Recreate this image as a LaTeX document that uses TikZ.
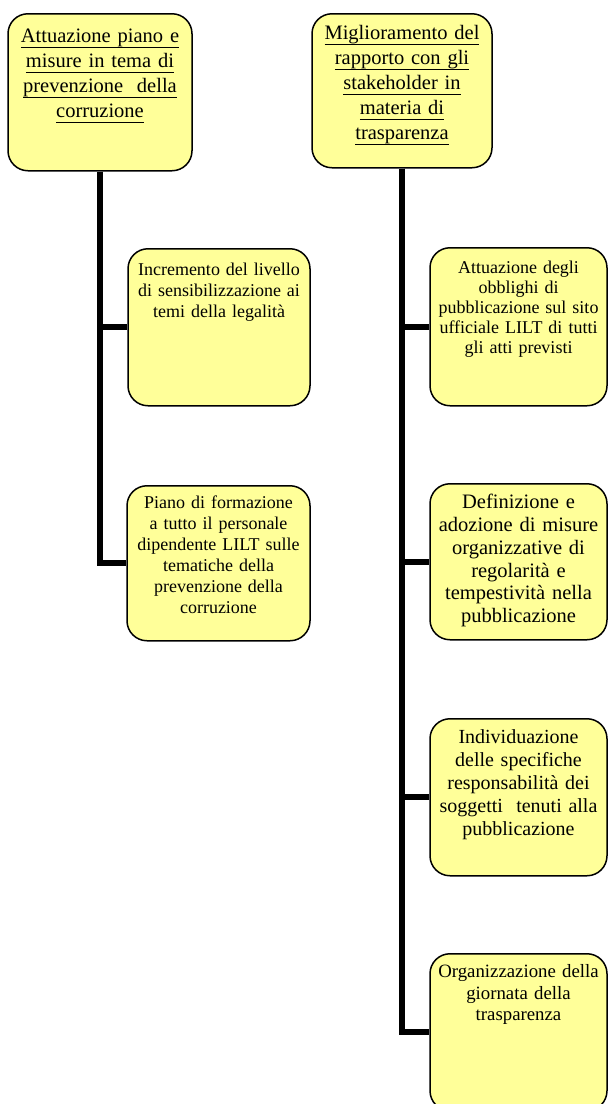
\documentclass[tikz,border=0pt]{standalone}
\usepackage{fontspec}
\setmainfont{Liberation Serif}
\usetikzlibrary{positioning}
\definecolor{boxyellow}{RGB}{255,255,153}
% underline at a fixed depth
\newcommand{\ulline}[1]{\leavevmode\setbox0\hbox{#1}\rlap{\rule[-5.5pt]{\wd0}{1pt}}\box0}

\begin{document}
\begin{tikzpicture}[x=1pt, y=-1pt,
    box/.style={draw, line width=1.5pt, fill=boxyellow, rounded corners=20pt,
        align=center, anchor=north, inner xsep=4pt, inner ysep=0pt},
    bigtxt/.style={font=\fontsize{20.5}{25}\selectfont},
    trunk/.style={line width=6pt}]
    \useasboundingbox (0,0) rectangle (608,1104);

    % Left branch
    \node[box, bigtxt, text width=176, text height=29, text depth=128] (corr) at (100,13)
        {\ulline{Attuazione piano e}\\ \ulline{misure in tema di}\\ \ulline{prevenzione\ \ della}\\ \ulline{corruzione}};
    \node[box, font=\fontsize{18}{21}\selectfont, text width=174, text height=27, text depth=130] (sens) at (219,248)
        {Incremento del livello\\ di sensibilizzazione ai\\ temi della legalità};
    \node[box, font=\fontsize{18}{21}\selectfont, text width=175, text height=23, text depth=132] (form) at (218.5,485)
        {Piano di formazione\\ a tutto il personale\\ dipendente LILT sulle\\ tematiche della\\ prevenzione della\\ corruzione};

    % Right branch
    \node[box, bigtxt, text width=172, text height=26, text depth=128] (trasp) at (402,13)
        {\ulline{Miglioramento del}\\ \ulline{rapporto con gli}\\ \ulline{stakeholder in}\\ \ulline{materia di}\\ \ulline{trasparenza}};
    \node[box, font=\fontsize{18}{20}\selectfont, text width=169, text height=26, text depth=132] (pubb) at (518.5,247)
        {Attuazione degli\\ obblighi di\\ pubblicazione sul sito\\ ufficiale LILT di tutti\\ gli atti previsti};
    \node[box, font=\fontsize{20.5}{22.8}\selectfont, text width=169, text height=25, text depth=131] (misu) at (518.5,483)
        {Definizione e\\ adozione di misure\\ organizzative di\\ regolarità e\\ tempestività nella\\ pubblicazione};
    \node[box, font=\fontsize{20}{23}\selectfont, text width=169, text height=25, text depth=132] (resp) at (518.5,718)
        {Individuazione\\ delle specifiche\\ responsabilità dei\\ soggetti\ \ tenuti alla\\ pubblicazione};
    \node[box, font=\fontsize{18.8}{21.5}\selectfont, text width=169, text height=24, text depth=133] (gior) at (518.5,953)
        {Organizzazione della\\ giornata della\\ trasparenza};

    % Connectors
    \draw[trunk] (corr.south) |- (sens.west);
    \draw[trunk] (corr.south) |- (form.west);
    \draw[trunk] (trasp.south) |- (pubb.west);
    \draw[trunk] (trasp.south) |- (misu.west);
    \draw[trunk] (trasp.south) |- (resp.west);
    \draw[trunk] (trasp.south) |- (gior.west);
\end{tikzpicture}
\end{document}
